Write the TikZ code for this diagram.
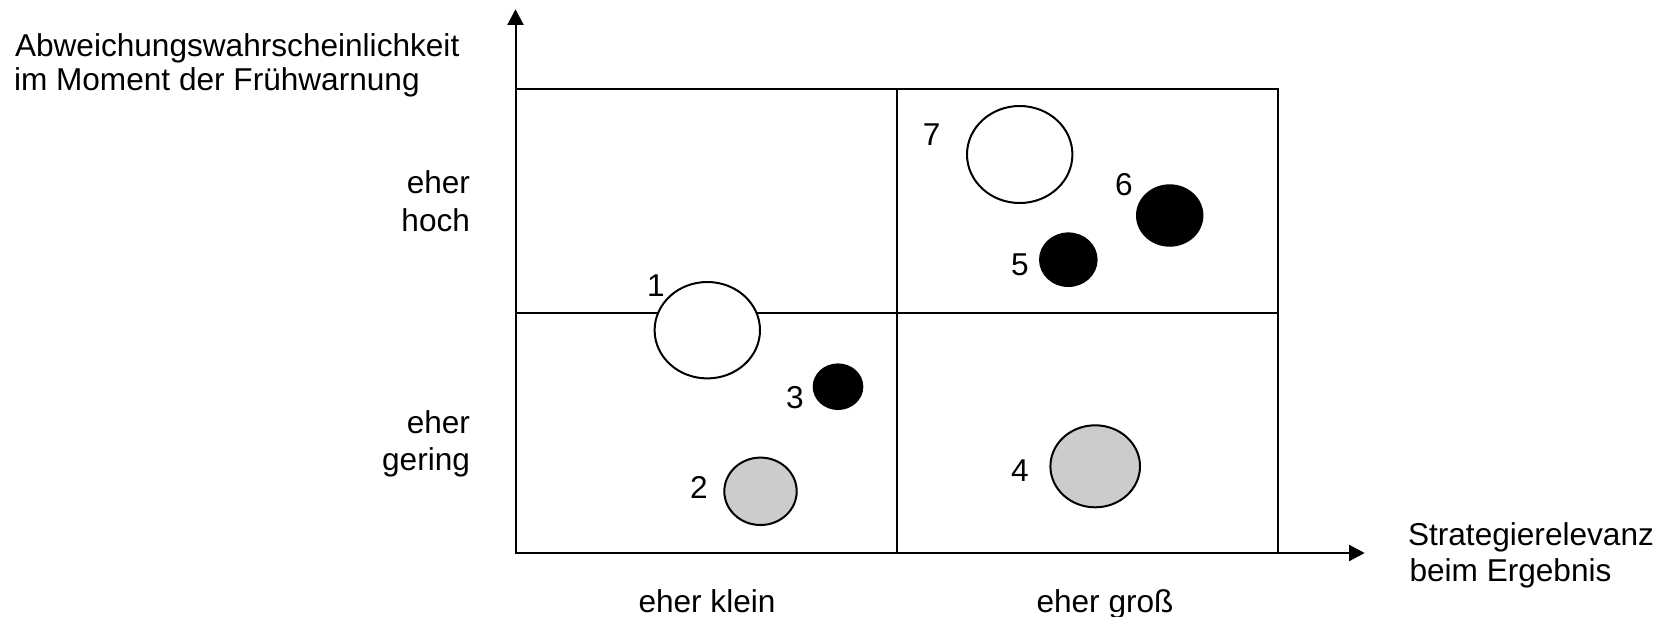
\documentclass[tikz,border=0pt]{standalone}
\usepackage{fontspec}
\setmainfont{Liberation Sans}
\usetikzlibrary{shapes.geometric,arrows.meta}
\begin{document}
\begin{tikzpicture}[x=0.5pt,y=-0.5pt,
  every node/.style={inner sep=0pt,outer sep=0pt,font=\fontsize{15.8pt}{18pt}\selectfont},
  gridline/.style={line width=1pt,black},
  axisline/.style={line width=1pt,black,-{Triangle[length=7.8pt,width=8pt]}},
  bubble/.style={ellipse,draw=black,line width=1pt},
  whitebub/.style={bubble,fill=white},
  blackbub/.style={bubble,fill=black},
  greybub/.style={bubble,fill=bubblegrey},
  lbl/.style={anchor=base}]
\definecolor{bubblegrey}{RGB}{204,204,204}
\useasboundingbox (0,0) rectangle (1663,616);
% axes
\coordinate (O) at (515.5,553);
\coordinate (ytip) at (515.5,9.3);
\coordinate (xtip) at (1364.7,553);
\coordinate (TL) at (515.5,89.3);
\coordinate (BR) at (1278,553);
\coordinate (MT) at (896.7,89.3);
\coordinate (MB) at (896.7,553);
\coordinate (ML) at (515.5,313.3);
\coordinate (MR) at (1278,313.3);
\draw[gridline] (TL) rectangle (BR);
\draw[gridline] (MT) -- (MB);
\draw[gridline] (ML) -- (MR);
\draw[axisline] (O) -- (ytip);
\draw[axisline] (O) -- (xtip);
% bubbles
\node[whitebub,minimum width=52.7pt,minimum height=48.5pt] (b7) at (1019.7,154.5) {};
\node[blackbub,minimum width=32.7pt,minimum height=30.2pt] (b6) at (1169.7,215.5) {};
\node[blackbub,minimum width=28.3pt,minimum height=26.3pt] (b5) at (1068.3,259.7) {};
\node[whitebub,minimum width=52.7pt,minimum height=48.2pt] (b1) at (707.3,330.2) {};
\node[blackbub,minimum width=24.3pt,minimum height=22.3pt] (b3) at (838,386.7) {};
\node[greybub,minimum width=36.2pt,minimum height=33.7pt] (b2) at (760.5,491.3) {};
\node[greybub,minimum width=44.8pt,minimum height=41pt] (b4) at (1095.2,466.3) {};
% numbers
\node[lbl] (n1) at (655.8,296.7) {1};
\node[lbl] (n7) at (931.7,145) {7};
\node[lbl] (n6) at (1124,195) {6};
\node[lbl] (n5) at (1020,275) {5};
\node[lbl] (n3) at (795,408.3) {3};
\node[lbl] (n2) at (699,498.3) {2};
\node[lbl] (n4) at (1020,481.7) {4};
% axis texts
\node[anchor=base west] (yt1) at (15,56.7) {Abweichungswahrscheinlichkeit};
\node[anchor=base west] (yt2) at (14,90.7) {im Moment der Frühwarnung};
\node[anchor=base east] (h1) at (470,193.3) {eher};
\node[anchor=base east] (h2) at (470,231.7) {hoch};
\node[anchor=base east] (g1) at (470,433) {eher};
\node[anchor=base east] (g2) at (470,470) {gering};
\node[anchor=base] (xk) at (707,612) {eher klein};
\node[anchor=base] (xg) at (1105,612) {eher groß};
\node[anchor=base west] (xt1) at (1408,545) {Strategierelevanz};
\node[anchor=base west] (xt2) at (1409.5,581.7) {beim Ergebnis};
\end{tikzpicture}
\end{document}
